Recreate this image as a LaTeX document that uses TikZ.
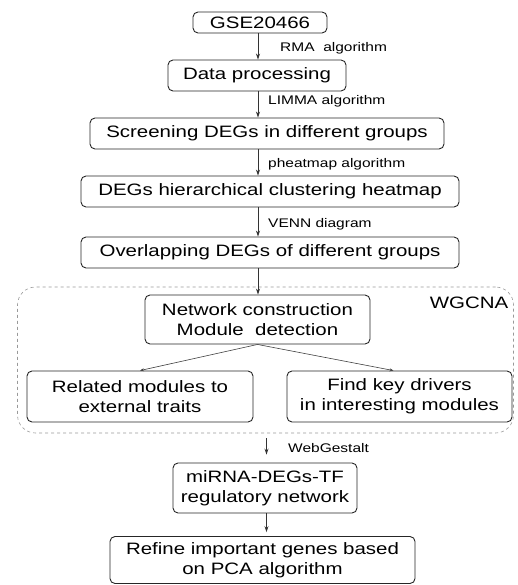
\documentclass[tikz,border=0pt]{standalone}
\usepackage{fontspec}
\setmainfont{Liberation Sans}[FakeStretch=1.24]
\usetikzlibrary{arrows.meta, positioning}

\begin{document}
\begin{tikzpicture}[x=1pt, y=-1pt,
    box/.style={draw=black!85, rounded corners=5pt, line width=0.9pt, inner sep=0pt,
        align=center, font=\fontsize{16.5}{20}\selectfont},
    lab/.style={anchor=west, inner sep=0pt, text=black, font=\fontsize{12.5}{14}\selectfont},
    flow/.style={-{Stealth[length=6pt, width=4pt]}, line width=0.9pt, black!80},
    branch/.style={-{Stealth[length=4pt, width=3pt]}, line width=0.6pt, black!75}]
    \useasboundingbox (0,0) rectangle (517,585);

    % Main chain
    \node[box, minimum width=134pt, minimum height=21pt] (gse) at (260,22.5) {GSE20466};
    \node[box, minimum width=178pt, minimum height=31pt] (data) at (257,75.5) {Data processing};
    \node[box, minimum width=354pt, minimum height=31pt] (screen) at (267,133.5) {Screening DEGs in different groups};
    \node[box, minimum width=378pt, minimum height=31pt] (heat) at (270,191.5) {DEGs hierarchical clustering heatmap};
    \node[box, minimum width=378pt, minimum height=31pt] (overlap) at (270,252.5) {Overlapping DEGs of different groups};

    % WGCNA block
    \node[draw=gray!80, dashed, rounded corners=18pt, line width=0.6pt, minimum width=496pt, minimum height=146pt] (wgcna) at (265.5,360) {};
    \node[font=\fontsize{16.5}{20}\selectfont] (wgcnalab) at (469,303) {WGCNA};
    \node[box, minimum width=225pt, minimum height=49pt] (net) at (257.5,319.5) {Network construction\\Module\ \ detection};
    \node[box, minimum width=226pt, minimum height=51pt] (rel) at (140,396.5) {Related modules to\\external traits};
    \node[box, minimum width=225pt, minimum height=51pt] (key) at (399.5,396.5) {Find key drivers\\in interesting modules};

    % Lower part
    \node[box, minimum width=184pt, minimum height=50pt] (mirna) at (265,488) {miRNA-DEGs-TF\\regulatory network};
    \node[box, minimum width=305pt, minimum height=47pt] (refine) at (262.5,560) {Refine important genes based\\on PCA algorithm};

    % Connectors
    \coordinate (axis) at (258,0);
    \coordinate (lowaxis) at (266.5,0);
    \draw[flow] (gse.south -| axis) -- (data.north -| axis);
    \draw[flow] (data.south -| axis) -- (screen.north -| axis);
    \draw[flow] (screen.south -| axis) -- (heat.north -| axis);
    \draw[flow] (heat.south -| axis) -- (overlap.north -| axis);
    \draw[flow] (overlap.south -| axis) -- (net.north -| axis);
    \draw[branch] (net.south) -- (rel.north);
    \draw[branch] (net.south) -- ([xshift=-6pt]key.north);
    \draw[flow, shorten <=5pt, shorten >=8pt] (wgcna.south -| lowaxis) -- (mirna.north -| lowaxis);
    \draw[flow, shorten >=4pt] (mirna.south -| lowaxis) -- (refine.north -| lowaxis);

    % Connector labels
    \node[lab] (rma) at (280,48) {RMA\ \ algorithm};
    \node[lab] (limma) at (268,101) {LIMMA algorithm};
    \node[lab] (pheat) at (268,164) {pheatmap algorithm};
    \node[lab] (venn) at (268,224) {VENN diagram};
    \node[lab] (webg) at (288,448) {WebGestalt};
\end{tikzpicture}
\end{document}
